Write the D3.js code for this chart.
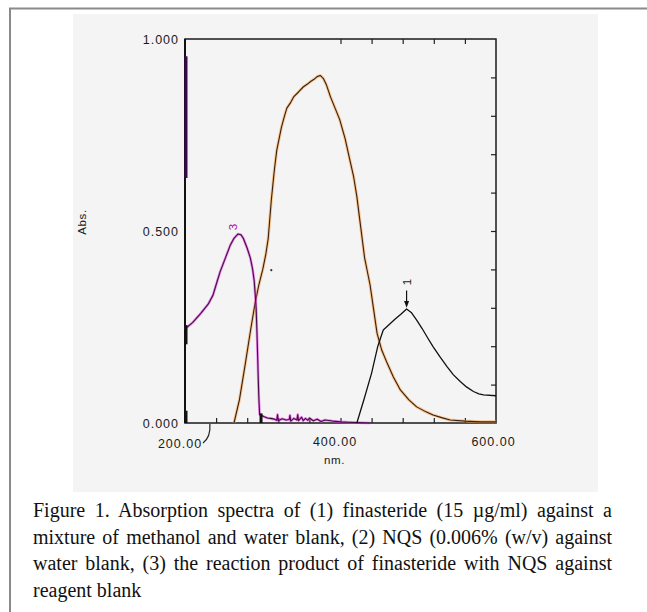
<!DOCTYPE html>
<html><head><meta charset="utf-8">
<script src="https://cdn.jsdelivr.net/npm/d3@7"></script>
<style>html,body{margin:0;padding:0;background:#fff;}svg{display:block;}</style>
</head><body>
<svg id="chart" width="647" height="612"></svg>
<script>
// ---- data (wavelength nm, absorbance) ----
const curve1 = [[421,0],[430,0.06],[440,0.13],[448,0.2],[455,0.242],[462,0.255],[470,0.27],[478,0.284],[485,0.297],[491,0.288],[498,0.268],[505,0.246],[512,0.222],[519,0.199],[528,0.172],[537,0.147],[545,0.126],[554,0.108],[562,0.094],[571,0.082],[578,0.076],[584,0.073],[600,0.071]];
const curve2 = [[263,0],[270,0.06],[278,0.16],[285,0.25],[290,0.31],[295,0.36],[300,0.40],[304,0.44],[307,0.48],[309,0.53],[311,0.58],[313,0.62],[315,0.66],[318,0.71],[321,0.74],[324,0.77],[328,0.80],[331,0.82],[336,0.835],[340,0.85],[346,0.862],[352,0.875],[357,0.882],[362,0.89],[366,0.895],[370,0.902],[374,0.905],[378,0.897],[382,0.88],[387,0.85],[393,0.82],[399,0.79],[406,0.74],[412,0.685],[417,0.64],[421,0.59],[426,0.51],[431,0.43],[435,0.39],[438,0.36],[443,0.29],[447,0.234],[453,0.19],[460,0.156],[468,0.12],[477,0.086],[488,0.06],[498,0.042],[510,0.029],[519,0.021],[530,0.014],[541,0.008],[560,0.005],[580,0.003],[600,0.003]];
const curve3 = [[200,0.245],[210,0.262],[220,0.285],[230,0.31],[236,0.333],[240,0.36],[245,0.393],[252,0.43],[258,0.462],[263,0.481],[268,0.492],[272,0.49],[275,0.481],[280,0.455],[284,0.43],[287,0.40],[289,0.37],[290.5,0.33],[291.5,0.30],[292.5,0.24],[293.5,0.17],[294.3,0.11],[295,0.065],[296,0.022],[298,0.02],[302,0.016],[306,0.013],[310,0.012],[315,0.01],[318,0.007],[319,0.022],[320,0.006],[325,0.011],[330,0.008],[334,0.009],[335,0.02],[336,0.005],[340,0.012],[344,0.008],[345,0.022],[346,0.006],[350,0.015],[352,0.006],[355,0.012],[358,0.007],[360,0.013],[365,0.006],[370,0.01],[375,0.004],[380,0.008],[390,0.005],[400,0.003],[410,0.002],[420,0.001],[438,0.0]];
const edgeSpikes = [[200,0.638,0.955,"#3a0a48"],[200,0.205,0.255,"#111"],[200,0.0,0.032,"#111"],[296.5,0.0,0.025,"#111"]];
const peakLabels = [["1",485,0.367],["3",262,0.51]];
const yLabels = [0, 0.5, 1];
const xLabels = [400, 600];
const rightTicks = [0.1,0.2,0.3,0.4,0.5,0.6,0.7,0.8,0.9];
const topTicks = [400,440,480,520,560];
const bottomTicks = [240,280,320,360,400,440,480,520,560];
const captionLines = [
  "Figure 1. Absorption spectra of (1) finasteride (15 µg/ml) against a",
  "mixture of methanol and water blank, (2) NQS (0.006% (w/v) against",
  "water blank, (3) the reaction product of finasteride with NQS against",
  "reagent blank"
];

const svg = d3.select("#chart");
// outer frame
svg.append("rect").attr("x",10).attr("y",8.5).attr("width",660).attr("height",620)
  .attr("fill","#fff").attr("stroke","#8a8a8a").attr("stroke-width",2);
// chart panel
svg.append("rect").attr("x",73).attr("y",14).attr("width",525).attr("height",478).attr("fill","#f4f4f4");

const L=185, R=496, T=39, B=423;
const x = d3.scaleLinear().domain([200,600]).range([L,R]);
const y = d3.scaleLinear().domain([0,1]).range([B,T]);
const font = "'Liberation Sans', Arial, sans-serif";

// inner ticks
svg.append("g").attr("transform",`translate(${R},0)`)
  .call(d3.axisLeft(y).tickValues(rightTicks).tickSize(5).tickFormat(""))
  .call(g=>{g.select(".domain").remove(); g.selectAll("line").attr("stroke","#222").attr("stroke-width",1.2);});
svg.append("g").attr("transform",`translate(0,${T})`)
  .call(d3.axisBottom(x).tickValues(topTicks).tickSize(5).tickFormat(""))
  .call(g=>{g.select(".domain").remove(); g.selectAll("line").attr("stroke","#222").attr("stroke-width",1.2);});
svg.append("g").attr("transform",`translate(0,${B})`)
  .call(d3.axisTop(x).tickValues(bottomTicks).tickSize(5).tickFormat(""))
  .call(g=>{g.select(".domain").remove(); g.selectAll("line").attr("stroke","#222").attr("stroke-width",1.2);});

// frame box
svg.append("rect").attr("x",L).attr("y",T).attr("width",R-L).attr("height",B-T)
  .attr("fill","none").attr("stroke","#1a1a1a").attr("stroke-width",1.5);
svg.append("line").attr("x1",L).attr("x2",L).attr("y1",T).attr("y2",B).attr("stroke","#111").attr("stroke-width",2);

// y labels
svg.append("g").attr("transform",`translate(${L-6},0)`)
  .call(d3.axisLeft(y).tickValues(yLabels).tickSize(0).tickPadding(0).tickFormat(d3.format(".3f")))
  .call(g=>{g.select(".domain").remove();
    g.selectAll("text").attr("font-family",font).attr("font-size",12.5).attr("letter-spacing","1px").attr("fill","#1a1a1a");});
// x labels
svg.append("g").attr("transform",`translate(0,${B+14})`)
  .call(d3.axisBottom(x).tickValues(xLabels).tickSize(0).tickPadding(0).tickFormat(d3.format(".2f")))
  .call(g=>{g.select(".domain").remove();
    g.selectAll("text").attr("font-family",font).attr("font-size",12.5).attr("letter-spacing","1px").attr("fill","#1a1a1a")
     .attr("dx",(d)=> d===400 ? -6 : -3);});
// 200.00 label with leader
svg.append("text").attr("x",x(200)-5).attr("y",B+25).attr("text-anchor","middle")
  .attr("font-family",font).attr("font-size",12.5).attr("letter-spacing","1px").attr("fill","#1a1a1a").text(d3.format(".2f")(200));
svg.append("path").attr("d",`M${x(200)+18},${B+20} Q${x(232)+1},${B+14} ${x(232)},${B+1}`)
  .attr("fill","none").attr("stroke","#222").attr("stroke-width",1.2);

svg.append("text").attr("x",(L+R)/2-6).attr("y",B+41).attr("text-anchor","middle")
  .attr("font-family",font).attr("font-size",11.5).attr("letter-spacing","0.6px").attr("fill","#1a1a1a").text("nm.");
svg.append("text").attr("transform",`translate(86,222) rotate(-90)`).attr("text-anchor","middle")
  .attr("font-family",font).attr("font-size",11.5).attr("letter-spacing","0.6px").attr("fill","#1a1a1a").text("Abs.");

// curves
const line = d3.line().x(d=>x(d[0])).y(d=>y(d[1]));
const cg = svg.append("g").attr("fill","none").attr("stroke-linejoin","round");
cg.append("path").datum(curve2).attr("d",line).attr("stroke","#f5a85a").attr("stroke-width",3).attr("opacity",0.6);
cg.append("path").datum(curve2).attr("d",line).attr("stroke","#3c1e0a").attr("stroke-width",1.1);
cg.append("path").datum(curve3).attr("d",line).attr("stroke","#e040e0").attr("stroke-width",2.6).attr("opacity",0.6);
cg.append("path").datum(curve3).attr("d",line).attr("stroke","#4a0a4a").attr("stroke-width",1.1);
cg.append("path").datum(curve1).attr("d",line).attr("stroke","#111").attr("stroke-width",1.3);

// vertical spikes on the axis edge
svg.append("g").selectAll("line").data(edgeSpikes).join("line")
  .attr("x1",d=>x(d[0])+1).attr("x2",d=>x(d[0])+1).attr("y1",d=>y(d[1])).attr("y2",d=>y(d[2]))
  .attr("stroke",d=>d[3]).attr("stroke-width",3);

// stray dot
svg.append("circle").attr("cx",x(311)).attr("cy",y(0.398)).attr("r",1.1).attr("fill","#333");

// peak labels
const pl = svg.append("g");
pl.selectAll("text").data(peakLabels).join("text")
  .attr("transform",d=>`translate(${x(d[1])},${y(d[2])}) rotate(-90)`)
  .attr("text-anchor","middle").attr("dy","0.35em")
  .attr("font-family",font).attr("font-size",11.5)
  .attr("fill",d=>d[0]==="3" ? "#a020a0" : "#222").text(d=>d[0]);
// arrow for peak 1
svg.append("line").attr("x1",x(485)).attr("x2",x(485)).attr("y1",y(0.345)).attr("y2",y(0.31))
  .attr("stroke","#111").attr("stroke-width",1.2);
svg.append("path").attr("d",`M${x(485)-2.5},${y(0.318)} L${x(485)+2.5},${y(0.318)} L${x(485)},${y(0.3)} Z`).attr("fill","#111");

// caption (justified lines)
const capW = 579;
const cap = svg.append("g").attr("font-family","'Liberation Serif','Times New Roman',serif").attr("font-size",20).attr("fill","#111");
cap.selectAll("text").data(captionLines).join("text")
  .attr("x",33).attr("y",(d,i)=>517+i*26.5)
  .text(d=>d)
  .each(function(d,i){
    if(i===captionLines.length-1) return;
    const sel = d3.select(this);
    const w = this.getComputedTextLength();
    const gaps = d.split(" ").length-1;
    if(w < capW){ sel.attr("word-spacing",(capW-w)/gaps); }
    else { sel.attr("textLength",capW).attr("lengthAdjust","spacingAndGlyphs"); }
  });
</script>
</body></html>
